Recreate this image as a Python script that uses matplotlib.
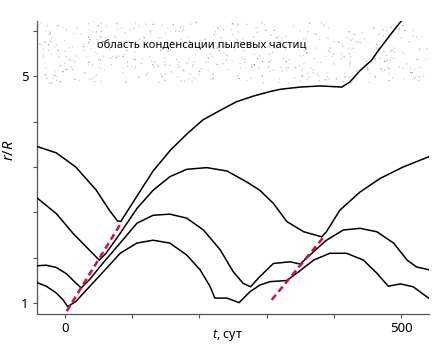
import numpy as np
import matplotlib.pyplot as plt

plt.rcParams['font.family'] = ['Noto Sans', 'DejaVu Sans']
plt.rcParams['mathtext.fontset'] = 'custom'
plt.rcParams['mathtext.it'] = 'Noto Sans:italic'
plt.rcParams['mathtext.rm'] = 'Noto Sans'

# траектории частиц r/R(t), t в сутках
t1 = [-41, -13, 16, 46, 66, 78, 83, 97, 112, 131, 157, 182, 205, 231, 255, 280, 305, 320, 350, 380, 412, 424, 439, 456, 466, 486, 500]
r1 = [3.76, 3.65, 3.40, 3.00, 2.64, 2.45, 2.44, 2.70, 2.98, 3.33, 3.70, 3.99, 4.23, 4.40, 4.55, 4.65, 4.73, 4.77, 4.81, 4.83, 4.81, 4.90, 5.10, 5.28, 5.45, 5.76, 5.97]

t2 = [-41, -13, 12, 31, 51, 61, 82, 107, 131, 156, 181, 211, 241, 270, 290, 310, 330, 355, 382, 389, 409, 439, 469, 503, 541]
r2 = [2.85, 2.58, 2.23, 2.00, 1.76, 1.88, 2.23, 2.67, 2.99, 3.23, 3.36, 3.39, 3.33, 3.14, 2.99, 2.76, 2.44, 2.26, 2.17, 2.26, 2.64, 2.96, 3.20, 3.40, 3.58]

t3 = [-41, -28, -13, 2, 14, 24, 36, 56, 82, 107, 131, 156, 181, 206, 231, 250, 265, 276, 290, 310, 335, 350, 370, 389, 414, 439, 464, 489, 509, 523, 541]
r3 = [1.66, 1.67, 1.63, 1.52, 1.38, 1.27, 1.41, 1.70, 2.06, 2.41, 2.55, 2.57, 2.50, 2.29, 1.94, 1.56, 1.35, 1.29, 1.47, 1.70, 1.73, 1.69, 1.91, 2.11, 2.29, 2.32, 2.26, 2.06, 1.76, 1.64, 1.59]

t4 = [-41, -28, -13, -3, 4, 16, 41, 66, 82, 107, 131, 156, 181, 201, 216, 223, 241, 259, 275, 290, 305, 330, 345, 370, 394, 419, 444, 464, 481, 499, 518, 541]
r4 = [1.36, 1.30, 1.18, 1.06, 0.94, 1.03, 1.35, 1.67, 1.88, 2.06, 2.11, 2.06, 1.85, 1.59, 1.29, 1.09, 1.09, 1.01, 1.20, 1.32, 1.38, 1.40, 1.53, 1.76, 1.88, 1.88, 1.76, 1.53, 1.30, 1.34, 1.29, 1.09]

# огибающие (пунктир)
env1_t = [2.5, 84.8]
env1_r = [0.86, 2.44]
env2_t = [307.6, 384.4]
env2_r = [1.06, 2.16]

dust_level = 4.87

fig = plt.figure(figsize=(4.41, 3.5), dpi=100)
ax = fig.add_axes([0.0839, 0.1029, 0.889, 0.838])

xmin, xmax = -41.7, 541.7
ymin, ymax = 0.81, 5.98

# область конденсации - редкие цветные крапинки
rng = np.random.default_rng(11)
n = 520
sx = rng.uniform(xmin + 3, xmax - 3, n)
sy = rng.uniform(dust_level, ymax - 0.03, n)
cols = np.array(['#c4c4c4', '#b4c0ea', '#b6dcb6', '#e6bcd4', '#a0a0a0', '#c8d0f0'])
sc = cols[rng.integers(0, len(cols), n)]
ax.scatter(sx, sy, s=1.0, c=sc, linewidths=0, zorder=1)

for t, r in [(t1, r1), (t2, r2), (t3, r3), (t4, r4)]:
    ax.plot(t, r, color='black', lw=1.1, zorder=3, solid_joinstyle='round')

for t, r in [(env1_t, env1_r), (env2_t, env2_r)]:
    ax.plot(t, r, color='#d0103a', lw=1.8, dashes=(2.6, 1.6), zorder=4)

ax.text(47, 5.53, 'область конденсации пылевых частиц', fontsize=8,
        ha='left', va='center', zorder=5)

ax.set_xlim(xmin, xmax)
ax.set_ylim(ymin, ymax)

ax.set_xticks([0, 100, 200, 300, 400, 500])
ax.set_xticklabels(['0', '', '', '', '', '500'])
ax.set_yticks([1, 1.8, 2.6, 3.4, 4.2, 5, 5.8])
ax.set_yticklabels(['1', '', '', '', '', '5', ''])
ax.tick_params(axis='both', length=3, width=0.8, color='#555555', labelsize=9.5, pad=3)

for s in ['top', 'right']:
    ax.spines[s].set_visible(False)
for s in ['left', 'bottom']:
    ax.spines[s].set_color('#555555')
    ax.spines[s].set_linewidth(0.9)

ax.set_xlabel(r'$t$, сут', fontsize=9)
ax.xaxis.set_label_coords(0.485, -0.045)
ax.set_ylabel(r'$r/R$', fontsize=10.5)
ax.yaxis.set_label_coords(-0.05, 0.56)

fig.savefig('out.png', dpi=100)
